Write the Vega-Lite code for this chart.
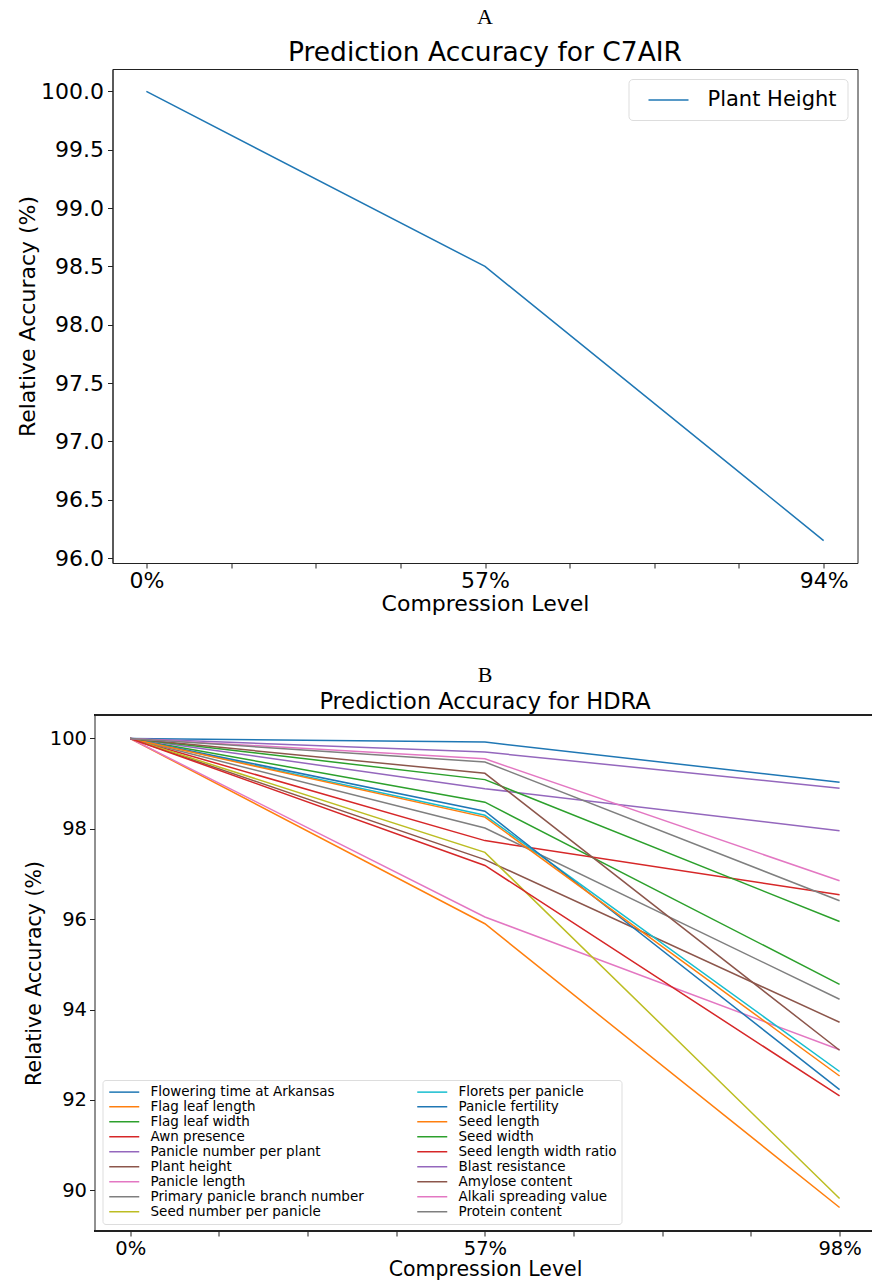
{
  "$schema": "https://vega.github.io/schema/vega-lite/v6.json",
  "padding": {"left": 15.5, "top": 5, "right": 0, "bottom": 0},
  "background": "white",
  "config": {
    "font": "DejaVu Sans",
    "axis": {"grid": false, "labelFont": "DejaVu Sans", "titleFont": "DejaVu Sans", "titleFontWeight": "normal", "labelColor": "#000", "titleColor": "#000", "domainColor": "#222", "tickColor": "#222", "tickSize": 5, "labelOverlap": false, "labelFlush": false},
    "view": {"stroke": "#222"}
  },
  "datasets": {
    "a": [
      {"t": "Plant Height", "c": 0, "v": 100},
      {"t": "Plant Height", "c": 1, "v": 98.5},
      {"t": "Plant Height", "c": 2, "v": 96.15}
    ],
    "b": [
      {"t": "Flowering time at Arkansas", "c": 0, "v": 100}, {"t": "Flowering time at Arkansas", "c": 1, "v": 99.92}, {"t": "Flowering time at Arkansas", "c": 2, "v": 99.03},
      {"t": "Flag leaf length", "c": 0, "v": 100}, {"t": "Flag leaf length", "c": 1, "v": 95.90}, {"t": "Flag leaf length", "c": 2, "v": 89.62},
      {"t": "Flag leaf width", "c": 0, "v": 100}, {"t": "Flag leaf width", "c": 1, "v": 98.59}, {"t": "Flag leaf width", "c": 2, "v": 94.56},
      {"t": "Awn presence", "c": 0, "v": 100}, {"t": "Awn presence", "c": 1, "v": 97.74}, {"t": "Awn presence", "c": 2, "v": 96.54},
      {"t": "Panicle number per plant", "c": 0, "v": 100}, {"t": "Panicle number per plant", "c": 1, "v": 98.89}, {"t": "Panicle number per plant", "c": 2, "v": 97.96},
      {"t": "Plant height", "c": 0, "v": 100}, {"t": "Plant height", "c": 1, "v": 97.32}, {"t": "Plant height", "c": 2, "v": 93.72},
      {"t": "Panicle length", "c": 0, "v": 100}, {"t": "Panicle length", "c": 1, "v": 96.05}, {"t": "Panicle length", "c": 2, "v": 93.11},
      {"t": "Primary panicle branch number", "c": 0, "v": 100}, {"t": "Primary panicle branch number", "c": 1, "v": 98.02}, {"t": "Primary panicle branch number", "c": 2, "v": 94.23},
      {"t": "Seed number per panicle", "c": 0, "v": 100}, {"t": "Seed number per panicle", "c": 1, "v": 97.48}, {"t": "Seed number per panicle", "c": 2, "v": 89.82},
      {"t": "Florets per panicle", "c": 0, "v": 100}, {"t": "Florets per panicle", "c": 1, "v": 98.30}, {"t": "Florets per panicle", "c": 2, "v": 92.63},
      {"t": "Panicle fertility", "c": 0, "v": 100}, {"t": "Panicle fertility", "c": 1, "v": 98.39}, {"t": "Panicle fertility", "c": 2, "v": 92.23},
      {"t": "Seed length", "c": 0, "v": 100}, {"t": "Seed length", "c": 1, "v": 98.26}, {"t": "Seed length", "c": 2, "v": 92.53},
      {"t": "Seed width", "c": 0, "v": 100}, {"t": "Seed width", "c": 1, "v": 99.09}, {"t": "Seed width", "c": 2, "v": 95.95},
      {"t": "Seed length width ratio", "c": 0, "v": 100}, {"t": "Seed length width ratio", "c": 1, "v": 97.19}, {"t": "Seed length width ratio", "c": 2, "v": 92.09},
      {"t": "Blast resistance", "c": 0, "v": 100}, {"t": "Blast resistance", "c": 1, "v": 99.70}, {"t": "Blast resistance", "c": 2, "v": 98.90},
      {"t": "Amylose content", "c": 0, "v": 100}, {"t": "Amylose content", "c": 1, "v": 99.23}, {"t": "Amylose content", "c": 2, "v": 93.10},
      {"t": "Alkali spreading value", "c": 0, "v": 100}, {"t": "Alkali spreading value", "c": 1, "v": 99.55}, {"t": "Alkali spreading value", "c": 2, "v": 96.85},
      {"t": "Protein content", "c": 0, "v": 100}, {"t": "Protein content", "c": 1, "v": 99.48}, {"t": "Protein content", "c": 2, "v": 96.41}
    ]
  },
  "spacing": 49,
  "resolve": {"scale": {"color": "independent"}, "legend": {"color": "independent"}},
  "vconcat": [
    {
      "width": 745,
      "height": 494,
      "title": {"text": "A", "subtitle": "Prediction Accuracy for C7AIR", "font": "Liberation Serif", "fontSize": 22, "fontWeight": "normal", "color": "#000", "subtitleFont": "DejaVu Sans", "subtitleFontSize": 26.5, "subtitleColor": "#000", "subtitlePadding": 11, "frame": "group", "anchor": "middle", "offset": 2},
      "data": {"name": "a"},
      "mark": {"type": "line", "strokeWidth": 1.5},
      "encoding": {
        "x": {"field": "c", "type": "quantitative", "scale": {"domain": [-0.1, 2.1], "nice": false, "zero": false},
          "axis": {"values": [0, 0.25, 0.5, 0.75, 1, 1.25, 1.5, 1.75, 2], "labelExpr": "datum.value == 0 ? '0%' : datum.value == 1 ? '57%' : datum.value == 2 ? '94%' : ''", "labelFontSize": 22, "titleFontSize": 22, "title": "Compression Level", "labelPadding": 2, "titlePadding": 2}},
        "y": {"field": "v", "type": "quantitative", "scale": {"domain": [95.9575, 100.1925], "nice": false, "zero": false},
          "axis": {"values": [96, 96.5, 97, 97.5, 98, 98.5, 99, 99.5, 100], "format": ".1f", "labelFontSize": 22, "titleFontSize": 22, "title": "Relative Accuracy (%)", "labelPadding": 4, "titlePadding": 1}},
        "color": {"field": "t", "type": "nominal", "scale": {"domain": ["Plant Height"], "range": ["#1f77b4"]},
          "legend": {"title": null, "orient": "top-right", "offset": 10, "symbolType": "M-2,0H2", "symbolSize": 400, "symbolStrokeWidth": 1.5, "labelFontSize": 21, "labelFont": "DejaVu Sans", "labelColor": "#000", "labelOffset": 28, "padding": 10, "symbolOffset": 19, "fillColor": "white", "strokeColor": "#ddd", "cornerRadius": 4}}
      }
    },
    {
      "width": 759,
      "height": 516,
      "view": {"stroke": null},
      "title": {"text": "B", "subtitle": "Prediction Accuracy for HDRA", "font": "Liberation Serif", "fontSize": 22, "fontWeight": "normal", "color": "#000", "subtitleFont": "DejaVu Sans", "subtitleFontSize": 22.5, "subtitleColor": "#000", "subtitlePadding": 4, "frame": "group", "anchor": "middle", "offset": 0, "dx": -7},
      "data": {"name": "b"},
      "layer": [
        {
          "mark": {"type": "line", "strokeWidth": 1.5},
          "encoding": {
            "x": {"field": "c", "type": "quantitative", "scale": {"domain": [-0.05, 2.09], "nice": false, "zero": false},
              "axis": {"values": [0, 0.25, 0.5, 0.75, 1, 1.25, 1.5, 1.75, 2], "labelExpr": "datum.value == 0 ? '0%' : datum.value == 1 ? '57%' : datum.value == 2 ? '98%' : ''", "labelFontSize": 19.5, "titleFontSize": 20.5, "title": "Compression Level", "labelPadding": 3, "titlePadding": 2, "domain": false, "titleX": 372.5}},
            "y": {"field": "v", "type": "quantitative", "scale": {"domain": [89.1, 100.52], "nice": false, "zero": false},
              "axis": {"values": [90, 92, 94, 96, 98, 100], "format": "d", "labelFontSize": 19.5, "titleFontSize": 20.5, "title": "Relative Accuracy (%)", "labelPadding": 3, "titlePadding": 4.5, "offset": 18}},
            "color": {"field": "t", "type": "nominal",
              "scale": {
                "domain": ["Flowering time at Arkansas", "Flag leaf length", "Flag leaf width", "Awn presence", "Panicle number per plant", "Plant height", "Panicle length", "Primary panicle branch number", "Seed number per panicle", "Florets per panicle", "Panicle fertility", "Seed length", "Seed width", "Seed length width ratio", "Blast resistance", "Amylose content", "Alkali spreading value", "Protein content"],
                "range": ["#1f77b4", "#ff7f0e", "#2ca02c", "#d62728", "#9467bd", "#8c564b", "#e377c2", "#7f7f7f", "#bcbd22", "#17becf", "#1f77b4", "#ff7f0e", "#2ca02c", "#d62728", "#9467bd", "#8c564b", "#e377c2", "#7f7f7f"]
              },
              "legend": {"title": null, "orient": "none", "legendX": -10, "legendY": 365, "columns": 2, "columnPadding": 49, "rowPadding": 0, "symbolType": "M-3,0H3", "symbolSize": 100, "symbolStrokeWidth": 1.5, "labelFontSize": 13.5, "labelFont": "DejaVu Sans", "labelColor": "#000", "labelOffset": 19.5, "labelLimit": 400, "padding": 5, "symbolOffset": 10, "fillColor": "white", "strokeColor": "#ddd", "cornerRadius": 3}}
          }
        },
        {
          "mark": {"type": "rule", "color": "#222", "strokeWidth": 1},
          "encoding": {"x": {"datum": -0.1}, "x2": {"datum": 2.09}, "y": {"datum": 100.52}}
        },
        {
          "mark": {"type": "rule", "color": "#222", "strokeWidth": 1},
          "encoding": {"x": {"datum": -0.1}, "x2": {"datum": 2.09}, "y": {"datum": 89.1}}
        }
      ]
    }
  ]
}
